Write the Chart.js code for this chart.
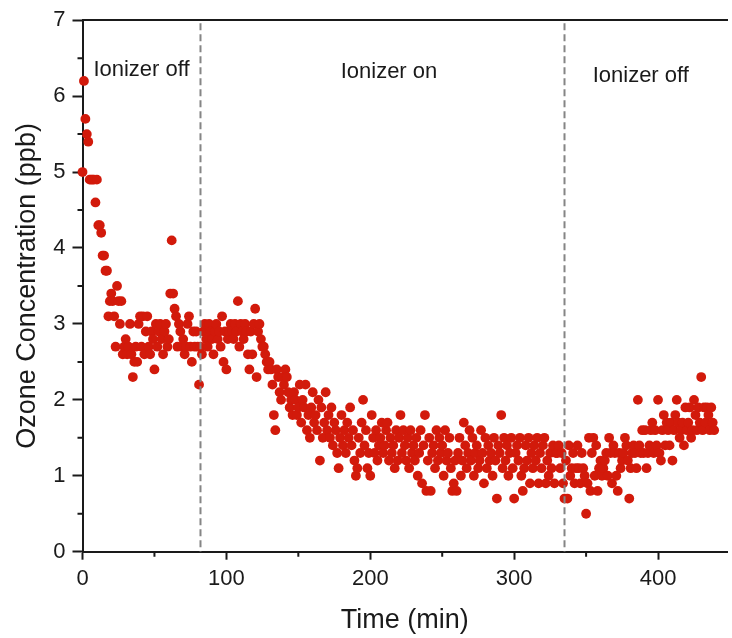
<!DOCTYPE html>
<html>
<head>
<meta charset="utf-8">
<script src="https://cdn.jsdelivr.net/npm/chart.js@4.4.1/dist/chart.umd.min.js"></script>
<style>
  body { margin: 0; background: #fff; }
  canvas { display: block; }
</style>
</head>
<body>
<canvas id="myChart" width="732" height="638"></canvas>
<script>
// ozone readings, one per minute starting at t = 0
var startMin = 0;
var stepMin = 1;
var ozone = [
  5.0, 6.2, 5.7, 5.5, 5.4, 4.9, 4.9, 4.9, 4.9, 4.6,
  4.9, 4.3, 4.3, 4.2, 3.9, 3.9, 3.7, 3.7, 3.1, 3.3,
  3.4, 3.3, 3.1, 2.7, 3.5, 3.3, 3.0, 3.3, 2.6, 2.7,
  2.8, 2.6, 2.7, 3.0, 2.6, 2.3, 2.5, 2.7, 2.5, 3.0,
  3.1, 2.7, 3.1, 2.6, 2.9, 3.1, 2.7, 2.6, 2.9, 2.8,
  2.4, 3.0, 2.7, 2.9, 3.0, 2.8, 2.6, 2.9, 3.0, 2.7,
  2.8, 3.4, 4.1, 3.4, 3.2, 3.1, 2.7, 3.0, 2.9, 2.7,
  2.8, 2.6, 2.7, 3.0, 3.1, 2.7, 2.5, 2.9, 2.7, 2.9,
  2.7, 2.2, 2.7, 2.6, 2.9, 3.0, 2.8, 2.7, 3.0, 2.9,
  2.8, 2.6, 2.9, 3.0, 2.8, 2.9, 2.7, 3.1, 2.5, 2.9,
  2.4, 2.8, 2.9, 3.0, 2.9, 2.8, 3.0, 2.9, 3.3, 2.7,
  3.0, 2.9, 2.8, 3.0, 2.9, 2.6, 2.4, 2.9, 2.6, 3.0,
  3.2, 2.3, 2.9, 3.0, 2.8, 2.7, 2.7, 2.6, 2.5, 2.4,
  2.5, 2.4, 2.2, 1.8, 1.6, 2.4, 2.3, 2.1, 2.0, 2.3,
  2.2, 2.4, 2.3, 2.1, 1.9, 2.0, 1.8, 2.1, 2.0, 1.8,
  1.9, 2.2, 1.7, 2.0, 1.9, 2.2, 1.6, 1.8, 1.5, 1.9,
  2.1, 1.7, 1.8, 1.6, 2.0, 1.2, 1.9, 1.5, 1.7, 2.1,
  1.6, 1.8, 1.5, 1.9, 1.4, 1.7, 1.6, 1.3, 1.1, 1.5,
  1.8, 1.4, 1.6, 1.3, 1.7, 1.5, 1.9, 1.4, 1.6, 1.2,
  1.0, 1.1, 1.5, 1.3, 1.7, 2.0, 1.4, 1.6, 1.1, 1.3,
  1.0, 1.8, 1.5, 1.3, 1.6, 1.2, 1.4, 1.5, 1.7, 1.3,
  1.4, 1.6, 1.7, 1.2, 1.5, 1.3, 1.4, 1.1, 1.6, 1.2,
  1.5, 1.8, 1.3, 1.6, 1.4, 1.2, 1.5, 1.1, 1.6, 1.3,
  1.4, 1.2, 1.5, 1.0, 1.3, 1.6, 0.9, 1.4, 1.8, 0.8,
  1.2, 1.5, 0.8, 1.3, 1.4, 1.1, 1.6, 1.2, 1.5, 1.3,
  1.4, 1.0, 1.6, 1.2, 1.3, 1.5, 1.1, 0.8, 0.9, 1.2,
  0.8, 1.3, 1.5, 1.0, 1.2, 1.7, 1.4, 1.1, 1.3, 1.6,
  1.2, 1.5, 1.0, 1.3, 1.4, 1.1, 1.2, 1.6, 1.3, 0.9,
  1.5, 1.1, 1.4, 1.2, 1.3, 1.0, 1.5, 1.2, 0.7, 1.4,
  1.3, 1.8, 1.1, 1.5, 1.2, 1.4, 1.0, 1.3, 1.5, 1.1,
  0.7, 1.3, 1.4, 1.2, 1.5, 1.0, 0.8, 1.1, 1.4, 1.2,
  1.5, 0.9, 1.3, 1.1, 1.4, 1.2, 1.5, 0.9, 1.3, 1.1,
  1.4, 1.5, 0.9, 1.2, 1.0, 1.3, 1.1, 1.4, 0.9, 1.3,
  1.3, 1.4, 1.1, 1.3, 0.9, 0.7, 1.2, 0.7, 1.4, 1.0,
  1.1, 1.3, 0.9, 1.1, 1.4, 1.1, 0.9, 1.3, 1.1, 1.0,
  0.5, 0.9, 1.5, 0.8, 1.3, 1.5, 1.0, 1.4, 0.8, 1.1,
  1.2, 1.0, 1.1, 1.2, 1.3, 1.0, 1.5, 1.3, 0.9, 1.4,
  1.3, 1.0, 0.8, 1.3, 1.1, 1.2, 1.3, 1.5, 1.4, 1.2,
  0.7, 1.1, 1.3, 1.4, 1.3, 1.1, 2.0, 1.4, 1.3, 1.6,
  1.3, 1.6, 1.1, 1.3, 1.4, 1.6, 1.7, 1.3, 1.6, 1.4,
  2.0, 1.3, 1.2, 1.6, 1.8, 1.4, 1.7, 1.6, 1.4, 1.7,
  1.2, 1.6, 1.8, 2.0, 1.7, 1.5, 1.6, 1.7, 1.4, 1.9,
  1.6, 1.7, 1.9, 1.5, 1.6, 2.0, 1.8, 1.6, 1.9, 1.7,
  2.3, 1.6, 1.9, 1.7, 1.9, 1.8, 1.6, 1.9, 1.7, 1.6
];

var xTicks = [0, 100, 200, 300, 400];
var yTicks = [0, 1, 2, 3, 4, 5, 6, 7];

// ionizer switched on / off (min)
var switchTimes = [82, 335];
var phaseNames = ["Ionizer off", "Ionizer on", "Ionizer off"];

var FONT = '"Liberation Sans", Arial, sans-serif';
var INK = "#1a1a1a";

var points = ozone.map(function (v, i) {
  return { x: startMin + i * stepMin, y: v };
});

// short ticks halfway between the labelled ones
var minorTicks = {
  id: "minorTicks",
  afterDraw: function (chart) {
    var ctx = chart.ctx;
    var area = chart.chartArea;
    var x = chart.scales.x;
    var y = chart.scales.y;
    ctx.save();
    ctx.strokeStyle = INK;
    ctx.lineWidth = 2;
    ctx.beginPath();
    for (var i = 0; i < yTicks.length - 1; i++) {
      var py = y.getPixelForValue((yTicks[i] + yTicks[i + 1]) / 2);
      ctx.moveTo(area.left - 5, py);
      ctx.lineTo(area.left, py);
    }
    for (var j = 0; j < xTicks.length; j++) {
      var mid = xTicks[j] + 50;
      if (mid > x.max) break;
      var px = x.getPixelForValue(mid);
      ctx.moveTo(px, area.bottom);
      ctx.lineTo(px, area.bottom + 5);
    }
    ctx.stroke();
    ctx.restore();
  },
};

// dashed switch lines + phase names
var phases = {
  id: "phases",
  afterDatasetsDraw: function (chart) {
    var ctx = chart.ctx;
    var area = chart.chartArea;
    var x = chart.scales.x;
    var y = chart.scales.y;
    ctx.save();
    ctx.strokeStyle = "#858585";
    ctx.lineWidth = 2;
    ctx.setLineDash([7, 4]);
    switchTimes.forEach(function (t) {
      var px = x.getPixelForValue(t);
      ctx.beginPath();
      ctx.moveTo(px, area.top + 3);
      ctx.lineTo(px, area.bottom);
      ctx.stroke();
    });
    ctx.setLineDash([]);
    ctx.fillStyle = INK;
    ctx.font = "22px " + FONT;
    ctx.textAlign = "center";
    ctx.textBaseline = "middle";
    var labelX = [41, 213, 388];
    var labelY = [6.34, 6.32, 6.27];
    phaseNames.forEach(function (name, i) {
      ctx.fillText(name, x.getPixelForValue(labelX[i]), y.getPixelForValue(labelY[i]));
    });
    ctx.restore();
  },
};

var config = {
  type: "scatter",
  data: {
    datasets: [
      {
        label: "Ozone",
        data: points,
        backgroundColor: "#d21a0b",
        borderWidth: 0,
        pointRadius: 4.9,
        clip: 8,
      },
    ],
  },
  options: {
    responsive: false,
    animation: false,
    devicePixelRatio: 1,
    layout: { padding: 0 },
    plugins: {
      legend: { display: false },
      tooltip: { enabled: false },
    },
    scales: {
      x: {
        type: "linear",
        position: "bottom",
        min: 0,
        max: 448,
        afterBuildTicks: function (s) {
          s.ticks = xTicks.map(function (v) { return { value: v }; });
        },
        afterFit: function (s) { s.height = 86.3; },
        border: { color: INK, width: 2 },
        grid: { drawOnChartArea: false, tickLength: 8, tickColor: INK, tickWidth: 2 },
        ticks: { color: INK, font: { family: FONT, size: 22 }, padding: 6, maxRotation: 0 },
        title: {
          display: true,
          text: "Time (min)",
          color: INK,
          font: { family: FONT, size: 27 },
          padding: { top: 0, bottom: 1 },
        },
      },
      xTop: {
        type: "linear",
        position: "top",
        min: 0,
        max: 448,
        afterFit: function (s) { s.height = 19; },
        border: { color: INK, width: 2 },
        grid: { display: false, drawTicks: false },
        ticks: { display: false },
      },
      y: {
        min: 0,
        max: 7,
        afterBuildTicks: function (s) {
          s.ticks = yTicks.map(function (v) { return { value: v }; });
        },
        afterFit: function (s) { s.width = 82.5; },
        border: { color: INK, width: 2 },
        grid: { drawOnChartArea: false, tickLength: 10, tickColor: INK, tickWidth: 2 },
        ticks: { color: INK, font: { family: FONT, size: 22 }, padding: 7 },
        title: {
          display: true,
          text: "Ozone Concentration (ppb)",
          color: INK,
          font: { family: FONT, size: 27 },
          padding: { top: 11, bottom: 0 },
        },
      },
    },
  },
  plugins: [minorTicks, phases],
};

var myChart = new Chart(document.getElementById("myChart"), config);
</script>
</body>
</html>
